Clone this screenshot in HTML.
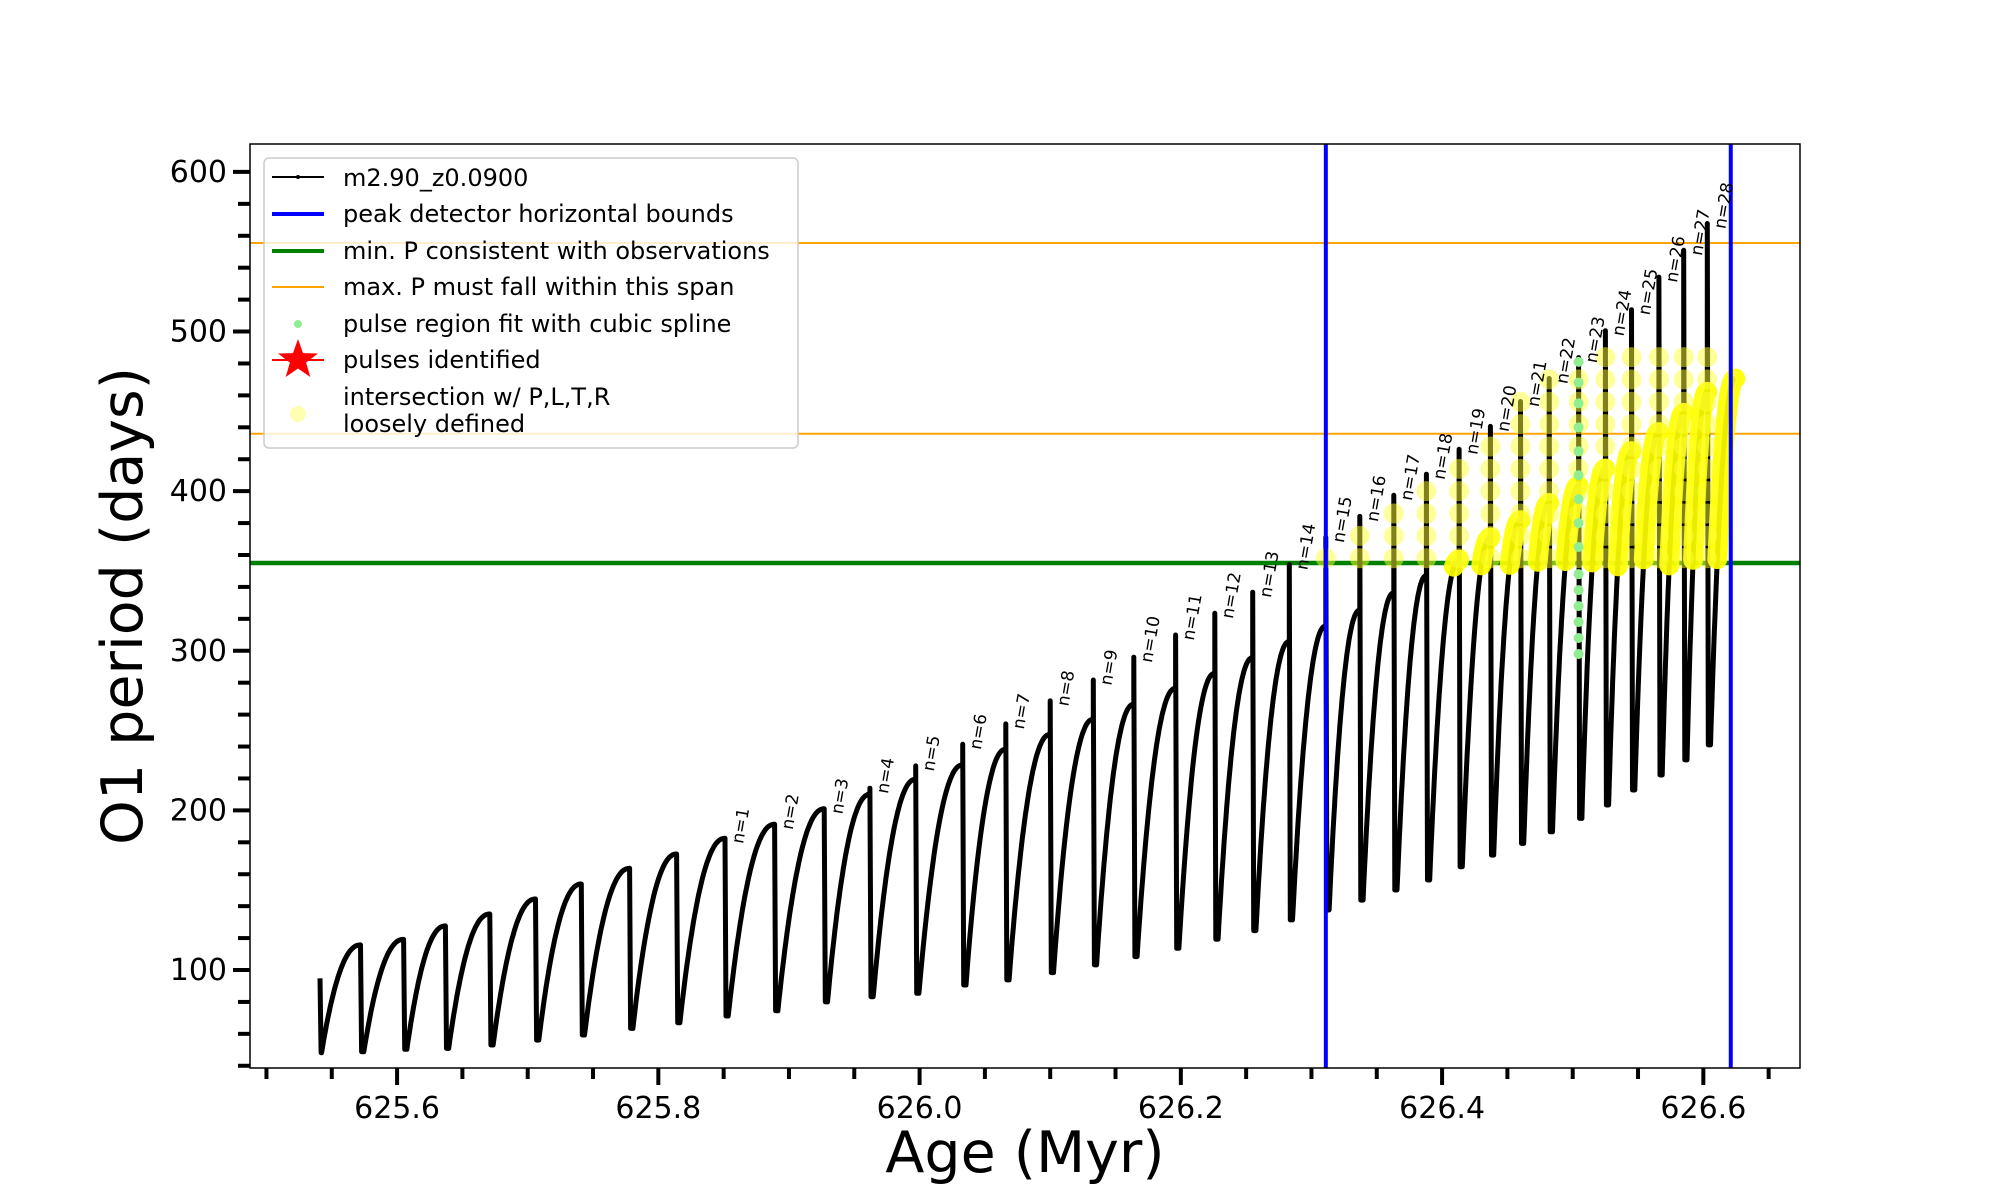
<!DOCTYPE html>
<html><head><meta charset="utf-8"><style>
html,body{margin:0;padding:0;background:#fff;}
svg{display:block;font-family:"DejaVu Sans","Liberation Sans",sans-serif;}
</style></head><body>
<svg id="chart" width="2000" height="1200" viewBox="0 0 2000 1200" xmlns="http://www.w3.org/2000/svg">
<defs><clipPath id="clip"><rect x="250" y="144" width="1550" height="924"/></clipPath></defs>
<rect width="2000" height="1200" fill="#fff"/>
<g id="plot" clip-path="url(#clip)"></g>
<rect x="250" y="144" width="1550" height="924" fill="none" stroke="#000" stroke-width="1.5"/>
<g id="axes"></g>
<text x="1025" y="1172" font-size="57" text-anchor="middle">Age (Myr)</text>
<text transform="translate(142,606) rotate(-90)" font-size="57" text-anchor="middle">O1 period (days)</text>
<g>
<rect x="264" y="158" width="534" height="290" rx="5" fill="#fff" fill-opacity="0.8" stroke="#cccccc" stroke-width="1.5"/>
<g><line x1="272" y1="177" x2="324" y2="177" stroke="#000" stroke-width="2"/><circle cx="298" cy="177" r="2" fill="#000"/><text x="343" y="186" font-size="24">m2.90_z0.0900</text></g>
<g><line x1="272" y1="214" x2="324" y2="214" stroke="#0000ff" stroke-width="4"/><text x="343" y="222" font-size="24">peak detector horizontal bounds</text></g>
<g><line x1="272" y1="251" x2="324" y2="251" stroke="#008000" stroke-width="4"/><text x="343" y="259" font-size="24">min. P consistent with observations</text></g>
<g><line x1="272" y1="287" x2="324" y2="287" stroke="#ffa500" stroke-width="2"/><text x="343" y="295" font-size="24">max. P must fall within this span</text></g>
<g><circle cx="298" cy="324" r="4" fill="#90ee90"/><text x="343" y="332" font-size="24">pulse region fit with cubic spline</text></g>
<g><line x1="272" y1="360" x2="324" y2="360" stroke="#ff0000" stroke-width="2"/><polygon id="star" fill="#ff0000" points=""/><text x="343" y="368" font-size="24">pulses identified</text></g>
<g><circle cx="298" cy="414" r="8" fill="#ffffb0"/><text x="343" y="405" font-size="24">intersection w/ P,L,T,R</text><text x="343" y="432" font-size="24">loosely defined</text></g>
</g>
</svg>
<script>
const dropAges=[625.572,625.605,625.637,625.671,625.706,625.741,625.778,625.814,625.851,625.889,625.927,625.962,625.997,626.033,626.066,626.100,626.133,626.164,626.196,626.226,626.255,626.283,626.311,626.337,626.363,626.388,626.413,626.437,626.460,626.482,626.5045,626.525,626.545,626.566,626.585,626.603];
const peakVals=[115.7,119.2,127.6,135.1,144.5,153.9,163.7,172.7,182.5,191.3,201,210.1,219.5,228.5,238.3,247.7,257.1,266.5,276.5,285.9,295.7,305.8,315.6,325.5,336.3,347.1,357,371,381.8,392.6,403.4,414.2,425,437,449,462.2];
const spikeVals=[115.7,119.2,127.6,135.1,144.5,153.9,163.7,172.7,182.5,191.3,201,213.9,227.9,241.4,254.2,268.6,281.7,296,309.9,323.5,336.7,354,371,384.2,397.4,410.6,426.2,440.6,456.2,470.6,483.7,500.5,513.7,534.1,550.9,567.7];
const minVals=[48.8,50.3,50.9,53.0,56.1,59.3,63.4,67.0,71.2,74.5,80,83.3,85.4,90.6,93.8,98.4,103.2,108.4,113.6,119.3,124.7,131.4,137.6,143.8,150.1,156.4,164.7,172,179.3,186.6,195,203.4,212.8,222.2,231.6,241];
const startAge=625.541, startVal=94.8, startMin=48.2, endAge=626.6245, endVal=470.6;
const minPeriod=355, maxSpan=[436,555.5], bounds=[626.311,626.621];
const splineAge=626.5045;
const splineVals=[298,308,318,328,338,348,365,380,395,410,425,440,455,468,481];
const xTicks=[625.6,625.8,626.0,626.2,626.4,626.6];
const xTickLabels=["625.6","625.8","626.0","626.2","626.4","626.6"];
const yTicks=[100,200,300,400,500,600];
const yTickLabels=["100","200","300","400","500","600"];

const NS="http://www.w3.org/2000/svg";
const xmin=625.4874,xmax=626.674,ymin=38.6,ymax=617.5;
function X(a){return 250+(a-xmin)/(xmax-xmin)*1550;}
function Y(v){return 1068-(v-ymin)/(ymax-ymin)*924;}
function mk(tag,attrs,parent){const e=document.createElementNS(NS,tag);for(const k in attrs)e.setAttribute(k,attrs[k]);parent.appendChild(e);return e;}
const plot=document.getElementById('plot'),axes=document.getElementById('axes');

maxSpan.forEach((v,i)=>{const l=mk('line',{x1:250,x2:1800,y1:Y(v),y2:Y(v),stroke:'#ffa500','stroke-width':2},plot);

});
const g=mk('line',{x1:250,x2:1800,y1:Y(minPeriod),y2:Y(minPeriod),stroke:'#008000','stroke-width':4.5},plot);



const lag=0.0025;
function rise(m,p,t){return m+(p-m)*(1-Math.pow(1-t,2.2));}
const segs=[];
segs.push({s:startAge+0.0012,m:startMin,e:dropAges[0],p:peakVals[0]});
for(let i=1;i<dropAges.length;i++)segs.push({s:dropAges[i-1]+lag,m:minVals[i-1],e:dropAges[i],p:peakVals[i]});
segs.push({s:dropAges[dropAges.length-1]+lag,m:minVals[minVals.length-1],e:endAge,p:endVal});
let d='M'+X(startAge).toFixed(1)+','+Y(startVal).toFixed(1)+' L'+X(startAge+0.0008).toFixed(1)+','+Y(startMin).toFixed(1);
const segPts=[];
segs.forEach((sg,i)=>{const pts=[];const N=40;
 for(let k=0;k<=N;k++){const t=k/N;const a=sg.s+(sg.e-sg.s)*t;pts.push([a,rise(sg.m,sg.p,t)]);}
 segPts.push(pts);
 pts.forEach(p=>{d+=' L'+X(p[0]).toFixed(1)+','+Y(p[1]).toFixed(1);});
 if(i<dropAges.length){d+=' L'+X(dropAges[i]).toFixed(1)+','+Y(spikeVals[i]).toFixed(1);
  d+=' L'+X(dropAges[i]+0.0008).toFixed(1)+','+Y(minVals[i]).toFixed(1);}
});
const curve=mk('path',{d:d,fill:'none',stroke:'#000','stroke-width':5,'stroke-linejoin':'round'},plot);



segPts.forEach((pts,i)=>{if(i<26)return;const hi=pts.filter(p=>p[1]>=352);if(hi.length<2)return;
 let yd='M'+hi.map(p=>X(p[0]).toFixed(1)+','+Y(p[1]).toFixed(1)).join(' L');
 const yp=mk('path',{d:yd,fill:'none',stroke:'#ffff00','stroke-width':20,'stroke-linecap':'round','stroke-linejoin':'round',opacity:0.92},plot);
 
 });
for(let i=22;i<dropAges.length;i++){const top=Math.min(spikeVals[i],492);
 for(let v=358;v<=top;v+=14){const c=mk('circle',{cx:X(dropAges[i]),cy:Y(v),r:10,fill:'#ffff33',opacity:0.5},plot);
 
 }}
splineVals.forEach(v=>{const c=mk('circle',{cx:X(splineAge),cy:Y(v),r:5,fill:'#90ee90'},plot);
 
 });
bounds.forEach(a=>{const l=mk('line',{x1:X(a),x2:X(a),y1:144,y2:1068,stroke:'#0000ff','stroke-width':4},plot);
 
 });

for(let k=1;k<=28;k++){const i=7+k;const x=X(dropAges[i])+18,y=Y(spikeVals[i])+6;
 const t=mk('text',{x:0,y:0,transform:`translate(${x.toFixed(1)},${y.toFixed(1)}) rotate(-80)`,'font-size':17,fill:'#000'},axes);
 t.textContent='n='+k;
 
 }

for(let v=40;v<=610;v+=20){const major=v%100===0;
 const l=mk('line',{x1:250-(major?17:12),x2:250,y1:Y(v),y2:Y(v),stroke:'#000','stroke-width':4},axes);
 
 }
yTicks.forEach((v,i)=>{const t=mk('text',{x:227,y:Y(v)+10,'font-size':30,'text-anchor':'end'},axes);
 t.textContent=yTickLabels[i];
 
 });
for(let k=0;k<=23;k++){const a=625.5+k*0.05;const major=(k%4===2);
 const l=mk('line',{x1:X(a),x2:X(a),y1:1068,y2:1068+(major?17:11),stroke:'#000','stroke-width':4},axes);
 
 }
xTicks.forEach((a,i)=>{const t=mk('text',{x:X(a),y:1118,'font-size':30,'text-anchor':'middle'},axes);
 t.textContent=xTickLabels[i];
 
 });

(function(){const cx=298,cy=360,R=21,r=8.5;let p=[];for(let k=0;k<10;k++){const ang=-Math.PI/2+k*Math.PI/5;const rr=k%2?r:R;p.push((cx+rr*Math.cos(ang)).toFixed(1)+','+(cy+rr*Math.sin(ang)).toFixed(1));}
document.getElementById('star').setAttribute('points',p.join(' '));})();
</script>
</body></html>
